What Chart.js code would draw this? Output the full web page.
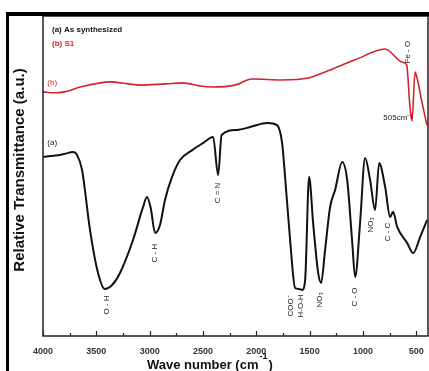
<!DOCTYPE html>
<html>
<head>
<meta charset="utf-8">
<script src="https://cdn.jsdelivr.net/npm/chart.js@4.4.1/dist/chart.umd.min.js"></script>
<style>
  html, body { margin: 0; padding: 0; background: #fff; }
  #wrap { position: relative; width: 429px; height: 371px; }
</style>
</head>
<body>
<div id="wrap"><canvas id="ftirChart" width="429" height="371"></canvas></div>
<script>
// wave numbers (cm-1) and relative transmittance (a.u.)
var waveA = [4000, 3900, 3800, 3719, 3681, 3634, 3559, 3484, 3420, 3350, 3278, 3156, 3060, 3025, 2990, 2949, 2903, 2856, 2790, 2715,
    2600, 2500, 2405, 2358, 2325, 2180, 2058, 1899, 1805, 1758, 1730, 1683, 1636, 1600, 1570, 1542, 1505, 1467, 1420, 1392,
    1355, 1308, 1261, 1195, 1148, 1102, 1073, 1027, 980, 933, 886, 848, 792, 745, 717, 679, 586, 529, 464, 398];
var transA = [56.0, 56.3, 56.9, 57.5, 56.6, 51.9, 33.1, 19.7, 14.7, 16.0, 19.7, 30.0, 40.5, 43.4, 40.0, 32.2, 34.7, 42.5, 49.7, 55.0,
    58.1, 60.3, 62.2, 50.3, 62.8, 64.4, 65.3, 66.6, 65.9, 60.3, 49.7, 30.0, 15.0, 14.7, 14.4, 17.5, 49.7, 35.3, 19.7, 16.6,
    26.9, 40.3, 45.6, 54.4, 48.8, 30.0, 18.4, 35.3, 55.6, 48.8, 39.4, 54.1, 46.6, 37.2, 38.8, 34.1, 29.1, 25.9, 30.9, 36.3];

var waveB = [4000, 3900, 3800, 3650, 3465, 3372, 3200, 3090, 2850, 2687, 2527, 2405, 2199, 2040, 1758, 1514, 1355, 1073, 792,
    633, 590, 560, 540, 511, 492, 445, 400];
var transB = [76.3, 76.0, 76.3, 77.8, 79.1, 79.4, 78.8, 78.4, 78.8, 79.1, 78.1, 77.8, 78.4, 80.3, 80.0, 80.6, 82.5, 86.3, 89.7,
    85.6, 84.7, 72.0, 67.2, 82.5, 80.5, 72.8, 65.9];

var xTicks = [4000, 3500, 3000, 2500, 2000, 1500, 1000, 500];
var minorTicks = [3750, 3250, 2750, 2250, 1750, 1250, 750];

// band assignments: [text, wave number, transmittance, rotated, colour]
var bandLabels = [
    ['O - H', 3400, 9.7, true, '#222'],
    ['C - H', 2949, 25.9, true, '#222'],
    ['C = N', 2358, 44.7, true, '#222'],
    ['COO\u207B', 1675, 9.4, true, '#222'],
    ['H-O-H', 1580, 9.4, true, '#222'],
    ['NO\u2083', 1402, 11.3, true, '#222'],
    ['C - O', 1073, 12.2, true, '#222'],
    ['NO\u2083', 923, 34.7, true, '#222'],
    ['C - C', 764, 32.5, true, '#222'],
    ['Fe - O', 576, 88.7, true, '#222'],
    ['505cm\u207B\u00B9', 670, 68.1, false, '#222'],
    ['(a)', 3960, 60.3, false, '#111'],
    ['(b)', 3960, 79.1, false, '#d1232a']
];

function toPoints(xs, ys) {
    return xs.map(function (x, i) { return { x: x, y: ys[i] }; });
}

var extras = {
    id: 'extras',
    afterDraw: function (chart) {
        var c = chart.ctx, a = chart.chartArea;
        var xs = chart.scales.x, ys = chart.scales.y;
        c.save();
        // plot frame
        c.strokeStyle = '#222';
        c.lineWidth = 1.5;
        c.strokeRect(a.left, a.top, a.right - a.left, a.bottom - a.top);
        // inward ticks
        c.lineWidth = 1.2;
        xTicks.forEach(function (t) {
            var px = Math.round(xs.getPixelForValue(t)) + 0.5;
            c.beginPath(); c.moveTo(px, a.bottom); c.lineTo(px, a.bottom - 5); c.stroke();
        });
        minorTicks.forEach(function (t) {
            var px = Math.round(xs.getPixelForValue(t)) + 0.5;
            c.beginPath(); c.moveTo(px, a.bottom); c.lineTo(px, a.bottom - 3); c.stroke();
        });
        // band labels
        c.font = '8px "Liberation Sans", Arial, sans-serif';
        c.textBaseline = 'middle';
        bandLabels.forEach(function (b) {
            var px = xs.getPixelForValue(b[1]), py = ys.getPixelForValue(b[2]);
            c.fillStyle = b[4];
            if (b[3]) {
                c.save();
                c.translate(px, py);
                c.rotate(-Math.PI / 2);
                c.textAlign = 'center';
                c.fillText(b[0], 0, 0);
                c.restore();
            } else {
                c.textAlign = b[0].charAt(0) === '(' ? 'left' : 'center';
                c.fillText(b[0], px, py);
            }
        });
        // legend text
        c.textAlign = 'left';
        c.font = 'bold 8px "Liberation Sans", Arial, sans-serif';
        c.fillStyle = '#111';
        c.fillText('(a) As synthesized', a.left + 9, 30);
        c.fillStyle = '#d1232a';
        c.fillText('(b) S1', a.left + 9, 44);
        // axis titles
        c.fillStyle = '#111';
        c.font = 'bold 13px "Liberation Sans", Arial, sans-serif';
        c.textBaseline = 'alphabetic';
        var t1 = 'Wave number (cm', w1 = c.measureText(t1).width;
        var sx = 147;
        c.fillText(t1, sx, 369);
        c.font = 'bold 9px "Liberation Sans", Arial, sans-serif';
        c.fillText('-1', sx + w1 + 1, 359);
        var w2 = c.measureText('-1').width;
        c.font = 'bold 13px "Liberation Sans", Arial, sans-serif';
        c.fillText(')', sx + w1 + w2 + 2, 369);
        c.save();
        c.translate(24, 170);
        c.rotate(-Math.PI / 2);
        c.textAlign = 'center';
        c.font = 'bold 15px "Liberation Sans", Arial, sans-serif';
        c.fillText('Relative Transmittance (a.u.)', 0, 0);
        c.restore();
        // outer frame of the figure
        c.fillStyle = '#000';
        c.fillRect(6, 12, 423, 4);
        c.fillRect(6, 12, 3, 359);
        c.restore();
    }
};

document.addEventListener('DOMContentLoaded', function () {
    var ctx = document.getElementById('ftirChart').getContext('2d');
    var ftirChart = new Chart(ctx, {
        type: 'line',
        data: {
            datasets: [{
                label: '(a) As synthesized',
                data: toPoints(waveA, transA),
                borderColor: '#111',
                borderWidth: 2,
                pointRadius: 0,
                cubicInterpolationMode: 'monotone'
            }, {
                label: '(b) S1',
                data: toPoints(waveB, transB),
                borderColor: '#d1232a',
                borderWidth: 1.6,
                pointRadius: 0,
                cubicInterpolationMode: 'monotone'
            }]
        },
        options: {
            responsive: false,
            animation: false,
            layout: { padding: { top: 16, right: 1, left: 0, bottom: 0 } },
            plugins: { legend: { display: false }, tooltip: { enabled: false } },
            scales: {
                x: {
                    type: 'linear',
                    reverse: true,
                    min: 390,
                    max: 4000,
                    afterBuildTicks: function (scale) {
                        scale.ticks = xTicks.map(function (v) { return { value: v }; });
                    },
                    afterFit: function (scale) { scale.height = 35; },
                    grid: { display: false },
                    border: { display: false },
                    ticks: {
                        maxRotation: 0,
                        padding: 2,
                        color: '#333',
                        font: { family: '"Liberation Sans", Arial, sans-serif', size: 9, weight: 'bold' },
                        callback: function (v) { return String(v); }
                    }
                },
                y: {
                    min: 0,
                    max: 100,
                    afterFit: function (scale) { scale.width = 43; },
                    grid: { display: false },
                    border: { display: false },
                    ticks: { display: false }
                }
            }
        },
        plugins: [extras]
    });
});
</script>
</body>
</html>
